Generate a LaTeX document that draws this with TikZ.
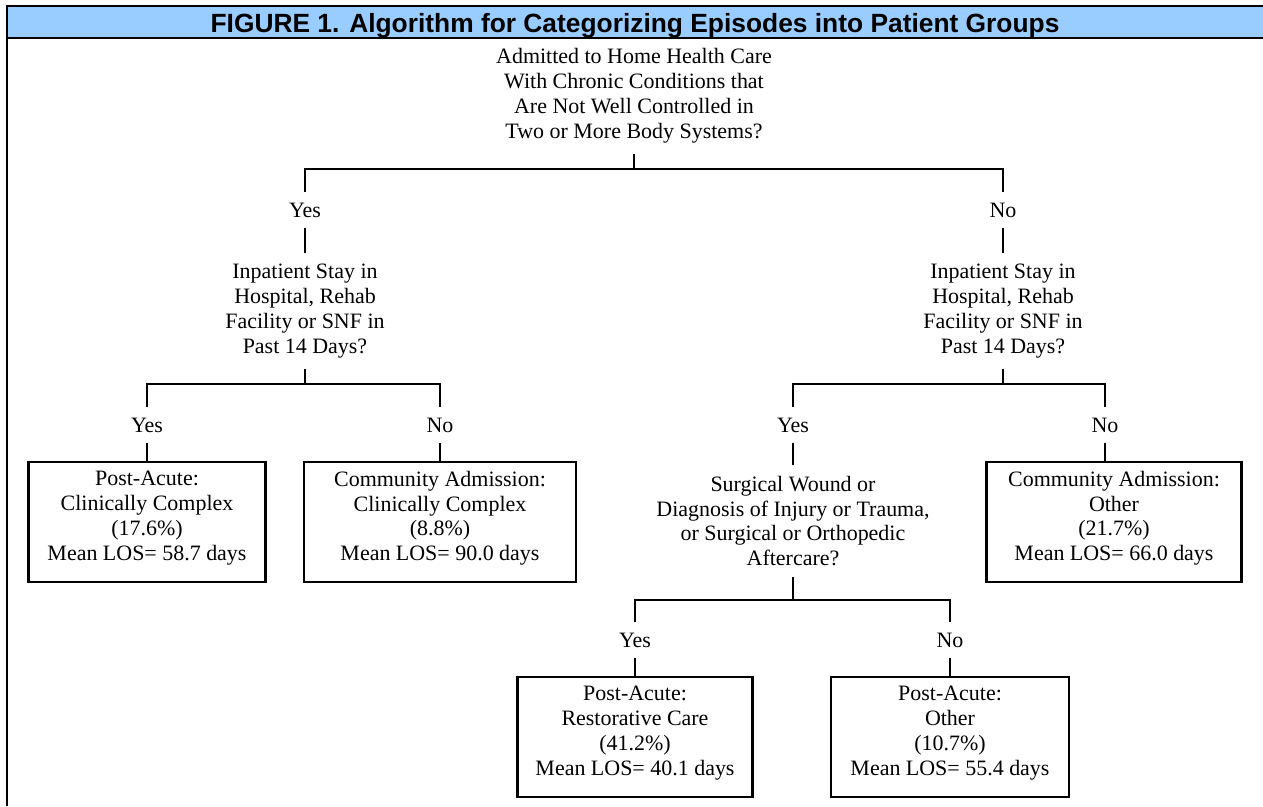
\documentclass[tikz,border=0pt]{standalone}
\usepackage{fontspec}
\setmainfont{Liberation Serif}
\newfontfamily\headfont{Liberation Sans}

\begin{document}
\begin{tikzpicture}[x=0.02cm,y=-0.02cm,
  question/.style={align=center,inner sep=0pt,outer sep=6pt,font=\fontsize{12.5}{14.2}\selectfont},
  answer/.style={inner sep=0pt,outer sep=6pt,text height=8.3pt,text depth=0pt,font=\fontsize{12.5}{14.2}\selectfont},
  grpbox/.style={draw,line width=1.5pt,align=center,inner sep=0pt,text depth=7pt,minimum height=2.4cm,font=\fontsize{12.5}{14.2}\selectfont},
  branch/.style={line width=1.2pt}]
\definecolor{headerblue}{HTML}{99CCFF}
\useasboundingbox (0,0) rectangle (1263,806);
\fill[headerblue] (7,6) rectangle (1263,38);
\draw[line width=1.2pt] (1263,6) -- (7,6) -- (7,806);
\draw[line width=1.2pt] (7,38) -- (1263,38);
\node[anchor=base,font=\headfont\bfseries\fontsize{15}{18}\selectfont] (title) at (635,32) {FIGURE 1. Algorithm for Categorizing Episodes into Patient Groups};

% questions
\node[question] (q1) at (634,96) {Admitted to Home Health Care\\With Chronic Conditions that\\Are Not Well Controlled in\\Two or More Body Systems?};
\node[question] (q2) at (305,311) {Inpatient Stay in\\Hospital, Rehab\\Facility or SNF in\\Past 14 Days?};
\node[question] (q3) at (1003,311) {Inpatient Stay in\\Hospital, Rehab\\Facility or SNF in\\Past 14 Days?};
\node[question] (q4) at (793,521) {Surgical Wound or\\Diagnosis of Injury or Trauma,\\or Surgical or Orthopedic\\Aftercare?};

% yes / no
\foreach \nm/\txt/\px/\py in {yesA/Yes/305/210,noA/No/1003/210,yesB/Yes/147/425,noB/No/440/425,yesC/Yes/793/425,noC/No/1105/425,yesD/Yes/635/640,noD/No/950/640}
  { \node[answer] (\nm) at (\px,\py) {\txt}; }

% patient groups
\node[grpbox,minimum width=4.74cm] (postcc) at (147,522) {Post-Acute:\\Clinically Complex\\(17.6\%)\\Mean LOS= 58.7 days};
\node[grpbox,minimum width=5.44cm] (commcc) at (440,522) {Community Admission:\\Clinically Complex\\(8.8\%)\\Mean LOS= 90.0 days};
\node[grpbox,minimum width=5.1cm] (commother) at (1114,522) {Community Admission:\\Other\\(21.7\%)\\Mean LOS= 66.0 days};
\node[grpbox,minimum width=4.7cm] (postrc) at (635,737) {Post-Acute:\\Restorative Care\\(41.2\%)\\Mean LOS= 40.1 days};
\node[grpbox,minimum width=4.76cm] (postother) at (950,737) {Post-Acute:\\Other\\(10.7\%)\\Mean LOS= 55.4 days};

\coordinate (b1) at (634,169);
\coordinate (b2) at (305,384);
\coordinate (b3) at (1003,384);
\coordinate (b4) at (793,600);

\draw[branch] (q1) -- (b1);
\draw[branch] (yesA) |- (b1) -| (noA);
\draw[branch] (yesA) -- (q2);
\draw[branch] (noA) -- (q3);
\draw[branch] (q2) -- (b2);
\draw[branch] (yesB) |- (b2) -| (noB);
\draw[branch] (q3) -- (b3);
\draw[branch] (yesC) |- (b3) -| (noC);
\draw[branch] (yesB) -- (postcc);
\draw[branch] (noB) -- (commcc);
\draw[branch] (noC) -- (noC |- commother.north);
\draw[branch] (yesC) -- (q4);
\draw[branch] (q4) -- (b4);
\draw[branch] (yesD) |- (b4) -| (noD);
\draw[branch] (yesD) -- (postrc);
\draw[branch] (noD) -- (postother);
\end{tikzpicture}
\end{document}
